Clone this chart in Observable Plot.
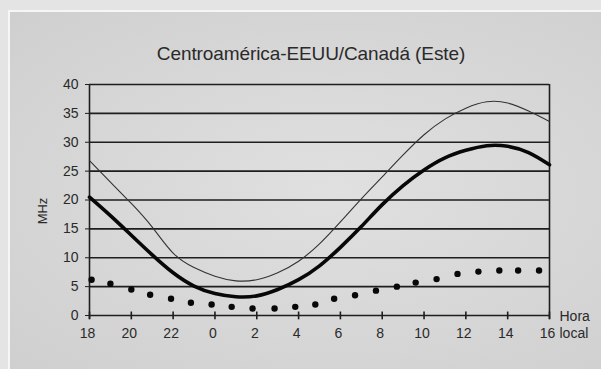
<!DOCTYPE html>
<html>
<head>
<meta charset="utf-8">
<script src="https://cdn.jsdelivr.net/npm/d3@7"></script>
<script src="https://cdn.jsdelivr.net/npm/@observablehq/plot@0.6"></script>
<style>
  body { margin: 0; }
  #wrap { position: relative; width: 601px; height: 369px; background: #e4e4e4; overflow: hidden;
          font-family: "Liberation Sans", Arial, sans-serif; }
  #panel { position: absolute; left: 8px; top: 10px; right: 0; bottom: 0;
           border-left: 2px solid #f6f6f6; border-top: 2px solid #f6f6f6;
           background: radial-gradient(ellipse at 55% 50%, #e0e0e0 0%, #d6d6d6 60%, #cfcfcf 100%); }
  #title { position: absolute; left: 0; width: 622px; top: 43px; text-align: center;
           font-size: 19px; color: #2a2a2a; letter-spacing: -0.1px; }
  #ylabel { position: absolute; left: 42px; top: 211px; transform: translate(-50%, -50%) rotate(-90deg);
            font-size: 13px; color: #2a2a2a; white-space: nowrap; }
  #chart { position: absolute; left: 0; top: 0; }
</style>
</head>
<body>
<div id="wrap">
  <div id="panel"></div>
  <div id="title">Centroamérica-EEUU/Canadá (Este)</div>
  <div id="chart"></div>
  <div id="ylabel">MHz</div>
</div>
<script>
// Hours (local time) from 18 h to 16 h of the next day, written as 18..40
const hours = [18,19,20,21,22,23,24,25,26,27,28,29,30,31,32,33,34,35,36,37,38,39,40];
const upper = [26.8,23.1,19.4,15.3,10.8,8.3,6.8,6.0,6.2,7.4,9.4,12.4,16.2,20.2,24.0,27.8,31.3,34.0,35.9,37.0,36.8,35.4,33.6];
const middle = [20.5,17.3,13.9,10.5,7.4,5.1,3.8,3.25,3.4,4.5,6.2,8.6,11.8,15.4,19.2,22.5,25.2,27.3,28.6,29.4,29.3,28.2,26.1];
const dotHours = [18.1,19.0,20.0,20.9,21.9,22.85,23.84,24.8,25.8,26.85,27.84,28.8,29.7,30.7,31.7,32.7,33.6,34.6,35.6,36.6,37.6,38.5,39.5];
const lower = [6.2,5.5,4.5,3.6,2.9,2.2,1.9,1.5,1.2,1.2,1.5,1.9,2.9,3.5,4.3,5.0,5.7,6.3,7.2,7.6,7.8,7.8,7.8];
const xTicks = [18,20,22,24,26,28,30,32,34,36,38,40];
const yTicks = [0,5,10,15,20,25,30,35,40];

const upperData = hours.map((h, i) => ({h, v: upper[i]}));
const middleData = hours.map((h, i) => ({h, v: middle[i]}));
const lowerData = dotHours.map((h, i) => ({h, v: lower[i]}));

const ink = "#1e1e1e";
const chart = Plot.plot({
  width: 601,
  height: 369,
  marginTop: 84,
  marginBottom: 54,
  marginLeft: 89,
  marginRight: 52,
  style: { background: "transparent", fontFamily: "'Liberation Sans', Arial, sans-serif", fontSize: "14px", color: "#2a2a2a" },
  x: { domain: [18, 40] },
  y: { domain: [0, 40] },
  marks: [
    Plot.ruleY(yTicks, { stroke: ink, strokeWidth: 1.6 }),
    Plot.ruleX([18], { y1: -0.7, y2: 40, stroke: ink, strokeWidth: 1.6 }),
    Plot.ruleX([40], { y1: -0.7, y2: 40, stroke: ink, strokeWidth: 1.6 }),
    Plot.ruleX(xTicks, { y1: -0.75, y2: 0.6, stroke: ink, strokeWidth: 1.6 }),
    Plot.axisY({ ticks: yTicks, tickSize: 4, tickPadding: 7, label: null, stroke: ink, fontSize: 14 }),
    Plot.axisX({ ticks: xTicks, tickSize: 0, tickPadding: 13, dx: -2, label: null, tickFormat: d => String(d % 24), fontSize: 14 }),
    Plot.text(["Hora"], { x: 40, y: 0, dx: 10, dy: 1, textAnchor: "start", fontSize: 14, fill: "#2a2a2a" }),
    Plot.text(["local"], { x: 40, y: 0, dx: 10, dy: 18, textAnchor: "start", fontSize: 14, fill: "#2a2a2a" }),
    Plot.line(upperData, { x: "h", y: "v", stroke: "#333", strokeWidth: 1.1, curve: "natural" }),
    Plot.line(middleData, { x: "h", y: "v", stroke: "#080808", strokeWidth: 3.6, curve: "natural" }),
    Plot.dot(lowerData, { x: "h", y: "v", r: 3.2, fill: "#080808", stroke: "none" })
  ]
});
document.getElementById("chart").appendChild(chart);
</script>
</body>
</html>
